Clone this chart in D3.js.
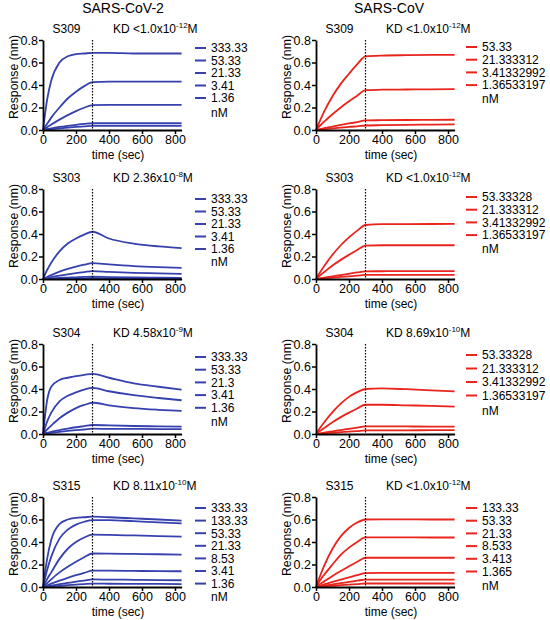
<!DOCTYPE html>
<html>
<head>
<meta charset="utf-8">
<script src="https://cdn.jsdelivr.net/npm/d3@7"></script>
<style>
  body { margin: 0; background: #fff; }
  svg { font-family: "Liberation Sans", Arial, sans-serif; }
</style>
</head>
<body>
<div id="chart"></div>
<script>
// sampled time points (sec)
const times = [0, 25, 50, 100, 150, 200, 250, 300, 400, 550, 700, 840];
const xTicks = [0, 200, 400, 600, 800];
const yTicks = [0, 0.2, 0.4, 0.6, 0.8];
const columnTitles = ['SARS-CoV-2', 'SARS-CoV'];
const antibodies = ['S309', 'S303', 'S304', 'S315'];
const kdCoV2 = ['<1.0', '2.36', '4.58', '8.11'];
const kdExpCoV2 = ['-12', '-8', '-9', '-10'];
const kdCoV = ['<1.0', '<1.0', '8.69', '<1.0'];
const kdExpCoV = ['-12', '-12', '-10', '-12'];

// concentrations (nM)
const concCoV2 = [
  ['333.33', '53.33', '21.33', '3.41', '1.36'],
  ['333.33', '53.33', '21.33', '3.41', '1.36'],
  ['333.33', '53.33', '21.3', '3.41', '1.36'],
  ['333.33', '133.33', '53.33', '21.33', '8.53', '3.41', '1.36']
];
const concCoV = [
  ['53.33', '21.333312', '3.41332992', '1.36533197'],
  ['53.33328', '21.333312', '3.41332992', '1.36533197'],
  ['53.33328', '21.333312', '3.41332992', '1.36533197'],
  ['133.33', '53.33', '21.33', '8.533', '3.413', '1.365']
];

// responses (nm) at the sampled times
const respS309CoV2 = [
  [0, 0.27, 0.44, 0.60, 0.655, 0.675, 0.68, 0.685, 0.685, 0.68, 0.68, 0.68],
  [0, 0.055, 0.11, 0.2, 0.28, 0.34, 0.39, 0.425, 0.43, 0.43, 0.43, 0.43],
  [0, 0.025, 0.048, 0.092, 0.132, 0.168, 0.198, 0.222, 0.224, 0.224, 0.224, 0.224],
  [0, 0.008, 0.015, 0.027, 0.037, 0.046, 0.054, 0.06, 0.06, 0.06, 0.06, 0.06],
  [0, 0.004, 0.008, 0.015, 0.021, 0.027, 0.032, 0.037, 0.037, 0.037, 0.037, 0.037]
];
const respS303CoV2 = [
  [0, 0.08, 0.145, 0.245, 0.315, 0.36, 0.395, 0.42, 0.36, 0.315, 0.29, 0.275],
  [0, 0.018, 0.035, 0.065, 0.09, 0.11, 0.127, 0.142, 0.13, 0.115, 0.105, 0.098],
  [0, 0.008, 0.016, 0.03, 0.042, 0.053, 0.062, 0.07, 0.063, 0.055, 0.05, 0.045],
  [0, 0.003, 0.005, 0.009, 0.012, 0.015, 0.018, 0.02, 0.017, 0.014, 0.012, 0.01],
  [0, 0.001, 0.002, 0.003, 0.004, 0.005, 0.006, 0.007, 0.005, 0.003, 0.002, 0.001]
];
const respS304CoV2 = [
  [0, 0.3, 0.42, 0.48, 0.5, 0.515, 0.525, 0.535, 0.5, 0.45, 0.42, 0.395],
  [0, 0.11, 0.19, 0.29, 0.34, 0.37, 0.395, 0.41, 0.38, 0.345, 0.32, 0.3],
  [0, 0.04, 0.075, 0.14, 0.19, 0.23, 0.258, 0.278, 0.255, 0.23, 0.215, 0.205],
  [0, 0.01, 0.02, 0.035, 0.048, 0.06, 0.07, 0.08, 0.076, 0.071, 0.068, 0.065],
  [0, 0.005, 0.01, 0.019, 0.027, 0.034, 0.04, 0.047, 0.046, 0.045, 0.044, 0.043]
];
const respS315CoV2 = [
  [0, 0.25, 0.42, 0.56, 0.6, 0.615, 0.62, 0.625, 0.62, 0.61, 0.6, 0.59],
  [0, 0.15, 0.27, 0.43, 0.51, 0.555, 0.58, 0.595, 0.595, 0.585, 0.575, 0.565],
  [0, 0.07, 0.13, 0.25, 0.34, 0.4, 0.44, 0.465, 0.463, 0.458, 0.453, 0.448],
  [0, 0.035, 0.068, 0.13, 0.18, 0.225, 0.265, 0.298, 0.297, 0.294, 0.291, 0.288],
  [0, 0.015, 0.03, 0.057, 0.082, 0.105, 0.126, 0.145, 0.145, 0.143, 0.141, 0.14],
  [0, 0.006, 0.013, 0.025, 0.036, 0.047, 0.057, 0.067, 0.066, 0.064, 0.062, 0.06],
  [0, 0.003, 0.006, 0.011, 0.016, 0.021, 0.026, 0.03, 0.029, 0.028, 0.027, 0.026]
];
const respS309CoV = [
  [0, 0.085, 0.165, 0.3, 0.41, 0.5, 0.585, 0.655, 0.662, 0.665, 0.667, 0.668],
  [0, 0.04, 0.075, 0.14, 0.2, 0.255, 0.305, 0.355, 0.358, 0.36, 0.362, 0.363],
  [0, 0.008, 0.016, 0.031, 0.045, 0.058, 0.071, 0.085, 0.087, 0.089, 0.09, 0.091],
  [0, 0.004, 0.008, 0.015, 0.021, 0.027, 0.033, 0.04, 0.043, 0.046, 0.048, 0.05]
];
const respS303CoV = [
  [0, 0.06, 0.115, 0.215, 0.3, 0.37, 0.43, 0.48, 0.487, 0.488, 0.489, 0.49],
  [0, 0.032, 0.062, 0.12, 0.17, 0.215, 0.258, 0.297, 0.3, 0.3, 0.3, 0.3],
  [0, 0.006, 0.012, 0.024, 0.035, 0.046, 0.058, 0.068, 0.069, 0.07, 0.07, 0.07],
  [0, 0.003, 0.006, 0.012, 0.018, 0.024, 0.03, 0.036, 0.036, 0.036, 0.036, 0.036]
];
const respS304CoV = [
  [0, 0.055, 0.105, 0.195, 0.27, 0.33, 0.372, 0.4, 0.405, 0.398, 0.388, 0.378],
  [0, 0.028, 0.054, 0.104, 0.15, 0.19, 0.227, 0.26, 0.26, 0.255, 0.25, 0.244],
  [0, 0.006, 0.012, 0.024, 0.035, 0.046, 0.057, 0.068, 0.068, 0.067, 0.066, 0.065],
  [0, 0.003, 0.006, 0.011, 0.016, 0.021, 0.026, 0.032, 0.033, 0.033, 0.034, 0.034]
];
const respS315CoV = [
  [0, 0.1, 0.19, 0.34, 0.45, 0.525, 0.573, 0.6, 0.602, 0.601, 0.6, 0.6],
  [0, 0.06, 0.11, 0.2, 0.285, 0.35, 0.4, 0.442, 0.442, 0.441, 0.44, 0.44],
  [0, 0.026, 0.05, 0.098, 0.142, 0.185, 0.225, 0.26, 0.26, 0.26, 0.26, 0.26],
  [0, 0.012, 0.023, 0.045, 0.066, 0.086, 0.106, 0.124, 0.125, 0.125, 0.125, 0.125],
  [0, 0.006, 0.012, 0.023, 0.034, 0.045, 0.056, 0.066, 0.066, 0.066, 0.066, 0.066],
  [0, 0.003, 0.006, 0.011, 0.016, 0.021, 0.026, 0.031, 0.031, 0.031, 0.031, 0.031]
];
const dissociationStart = 300;

const respCoV2 = [respS309CoV2, respS303CoV2, respS304CoV2, respS315CoV2];
const respCoV = [respS309CoV, respS303CoV, respS304CoV, respS315CoV];

// layout
const fullWidth = 550;
const fullHeight = 620;
const colX = [43, 316];
const rowY = [40, 189, 344, 497];
const plotH = 90;
const px800 = 132;
const colours = ['#3641ae', '#e8241c'];
const titleX = [123, 389];
const legendTop = [[8, 10, 13, 11], [7, 8, 11, 11]];
const legendStep = [[12.5, 12.5, 12.7, 12.6], [12.7, 12.7, 13.5, 12.7]];
const nMGap = [[15, 13, 13.5, 13.5], [14, 13.5, 15, 14]];

const svg = d3.select('#chart')
  .append('svg')
  .attr('width', fullWidth)
  .attr('height', fullHeight)
  .attr('viewBox', [0, 0, fullWidth, fullHeight]);

// column titles
svg.selectAll('.col-title')
  .data(columnTitles)
  .enter()
  .append('text')
  .attr('class', 'col-title')
  .attr('x', (d, i) => titleX[i])
  .attr('y', 13)
  .attr('text-anchor', 'middle')
  .style('font-size', '14px')
  .text(d => d);

const x = d3.scaleLinear().domain([0, 840]).range([0, px800 * 840 / 800]);
const y = d3.scaleLinear().domain([0, 0.8]).range([plotH, 0]);
const line = d3.line()
  .x((d, i) => x(times[i]))
  .y(d => y(d))
  .curve(d3.curveMonotoneX);

function drawPanel(col, row) {
  const conc = col === 0 ? concCoV2[row] : concCoV[row];
  const resp = col === 0 ? respCoV2[row] : respCoV[row];
  const kd = col === 0 ? kdCoV2[row] : kdCoV[row];
  const kdExp = col === 0 ? kdExpCoV2[row] : kdExpCoV[row];
  const colour = colours[col];

  const g = svg.append('g')
    .attr('transform', `translate(${colX[col]}, ${rowY[row]})`);

  // curves
  g.append('g')
    .selectAll('path')
    .data(resp)
    .enter()
    .append('path')
    .attr('d', line)
    .attr('fill', 'none')
    .attr('stroke', colour)
    .attr('stroke-width', 1.8);

  // dotted line at start of dissociation
  g.append('line')
    .attr('x1', x(dissociationStart))
    .attr('x2', x(dissociationStart))
    .attr('y1', y(0.8))
    .attr('y2', y(0))
    .attr('stroke', '#000')
    .attr('stroke-width', 1.2)
    .attr('stroke-dasharray', '1.5,1.5');

  // axes
  const xAxis = g.append('g')
    .attr('transform', `translate(0, ${plotH})`)
    .call(d3.axisBottom(x).tickValues(xTicks).tickSize(4).tickSizeOuter(0));
  const yAxis = g.append('g')
    .call(d3.axisLeft(y).tickValues(yTicks).tickFormat(d3.format('.1f')).tickSize(4).tickSizeOuter(0));
  [xAxis, yAxis].forEach(a => {
    a.select('.domain').attr('stroke-width', 1.8);
    a.selectAll('.tick line').attr('stroke-width', 1.5);
    a.selectAll('.tick text')
      .style('font-size', '12.5px')
      .style('font-family', '"Liberation Sans", Arial, sans-serif')
      .attr('fill', '#000');
  });
  xAxis.selectAll('.tick text').attr('dy', '0.75em').attr('y', 5);
  yAxis.selectAll('.tick text').attr('x', -5);

  // axis labels
  g.append('text')
    .attr('x', 75)
    .attr('y', plotH + 29)
    .attr('text-anchor', 'middle')
    .style('font-size', '12px')
    .text('time (sec)');
  g.append('text')
    .attr('transform', `translate(-25, ${plotH / 2 - 8}) rotate(-90)`)
    .attr('text-anchor', 'middle')
    .style('font-size', '12.3px')
    .text('Response (nm)');

  // panel label + KD
  g.append('text')
    .attr('x', 23.5)
    .attr('y', -7)
    .attr('text-anchor', 'middle')
    .style('font-size', '12px')
    .text(antibodies[row]);
  const kdText = g.append('text')
    .attr('x', 70)
    .attr('y', -7)
    .style('font-size', '12px');
  kdText.append('tspan').text(`KD ${kd}x10`);
  kdText.append('tspan').attr('dy', -5).style('font-size', '8px').text(kdExp);
  kdText.append('tspan').attr('dy', 5).text('M');

  // legend
  const lx = col === 0 ? 152 : 150;
  const top = legendTop[col][row];
  const step = legendStep[col][row];
  const legend = g.selectAll('.legend')
    .data(conc)
    .enter()
    .append('g')
    .attr('class', 'legend')
    .attr('transform', (d, i) => `translate(${lx}, ${top + i * step})`);
  legend.append('line')
    .attr('x1', 0)
    .attr('x2', 11)
    .attr('stroke', colour)
    .attr('stroke-width', 2);
  legend.append('text')
    .attr('x', 16)
    .attr('y', 4.3)
    .style('font-size', '12px')
    .text(d => d);
  g.append('text')
    .attr('x', lx + 16)
    .attr('y', top + (conc.length - 1) * step + nMGap[col][row] + 4.3)
    .style('font-size', '12px')
    .text('nM');
}

for (let col = 0; col < 2; col++) {
  for (let row = 0; row < 4; row++) {
    drawPanel(col, row);
  }
}
</script>
</body>
</html>
